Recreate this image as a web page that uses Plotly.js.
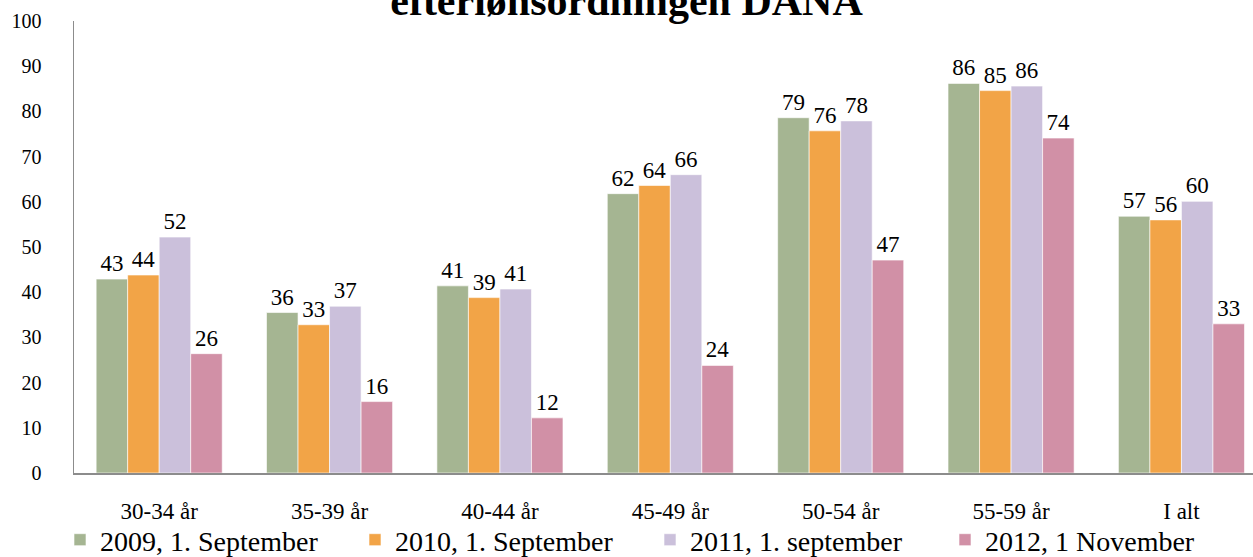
<!DOCTYPE html>
<html>
<head>
<meta charset="utf-8">
<script src="https://cdn.plot.ly/plotly-3.0.1.min.js"></script>
<style>html,body{margin:0;padding:0;background:#fff;}#chart{width:1253px;height:557px;}</style>
</head>
<body>
<div id="chart"></div>
<script>
const categories = ["30-34 år", "35-39 år", "40-44 år", "45-49 år", "50-54 år", "55-59 år", "I alt"];
const seriesNames = ["2009, 1. September", "2010, 1. September", "2011, 1. september", "2012, 1 November"];
const values2009 = [42.9, 35.5, 41.4, 61.8, 78.6, 86.2, 56.8];
const values2010 = [43.8, 32.8, 38.8, 63.6, 75.7, 84.6, 56.0];
const values2011 = [52.2, 36.9, 40.7, 66.0, 77.9, 85.6, 60.1];
const values2012 = [26.4, 15.8, 12.2, 23.8, 47.1, 74.1, 33.0];
const labels2009 = ["43", "36", "41", "62", "79", "86", "57"];
const labels2010 = ["44", "33", "39", "64", "76", "85", "56"];
const labels2011 = ["52", "37", "41", "66", "78", "86", "60"];
const labels2012 = ["26", "16", "12", "24", "47", "74", "33"];
const colors = ["#A5B592", "#F2A447", "#CBC0DB", "#D190A6"];

const allValues = [values2009, values2010, values2011, values2012];
const allLabels = [labels2009, labels2010, labels2011, labels2012];
const fontFamily = "Liberation Serif, serif";

const traces = allValues.map((vals, i) => ({
  type: "bar",
  name: seriesNames[i],
  x: categories,
  y: vals,
  text: allLabels[i],
  textposition: "outside",
  textfont: {family: fontFamily, size: 23, color: "#000"},
  cliponaxis: false,
  marker: {color: colors[i], line: {color: "rgba(255,255,255,0.6)", width: 1}},
  hoverinfo: "skip"
}));

const layout = {
  width: 1253,
  height: 557,
  margin: {l: 74, r: 0, t: 21, b: 84},
  paper_bgcolor: "#fff",
  plot_bgcolor: "#fff",
  barmode: "group",
  bargap: 0.26,
  bargroupgap: 0,
  title: {
    text: "<b>efterlønsordningen DANA</b>",
    font: {family: fontFamily, size: 42, color: "#000"},
    x: 0.5, xanchor: "center",
    y: 1.0, yanchor: "middle",
    yref: "container"
  },
  xaxis: {
    range: [-0.5, 6.42],
    showline: true,
    linecolor: "#8c8c8c",
    linewidth: 2,
    ticks: "",
    showgrid: false,
    tickfont: {family: fontFamily, size: 23, color: "#000"},
    ticklabelstandoff: 16
  },
  yaxis: {
    range: [0, 100],
    tickvals: [0, 10, 20, 30, 40, 50, 60, 70, 80, 90, 100],
    showline: true,
    linecolor: "#8c8c8c",
    linewidth: 1.5,
    ticks: "",
    showgrid: false,
    zeroline: false,
    tickfont: {family: fontFamily, size: 20, color: "#000"},
    ticklabelstandoff: 27
  },
  showlegend: true,
  legend: {
    orientation: "h",
    x: 60 / 1253, xref: "container",
    y: 17 / 557, yref: "container", yanchor: "middle",
    xanchor: "left",
    bgcolor: "rgba(0,0,0,0)",
    entrywidth: 250,
    entrywidthmode: "pixels",
    font: {family: fontFamily, size: 28, color: "#000"},
    itemwidth: 30,
    traceorder: "normal"
  }
};

Plotly.newPlot("chart", traces, layout, {staticPlot: true});
</script>
</body>
</html>
